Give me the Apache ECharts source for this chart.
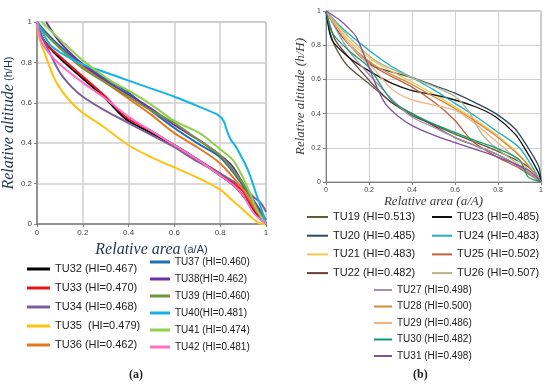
<!DOCTYPE html>
<html><head><meta charset="utf-8">
<script src="https://cdn.jsdelivr.net/npm/echarts/dist/echarts.min.js"></script>
<style>html,body{margin:0;padding:0;background:#fff}#c{width:550px;height:388px}</style>
</head><body><div id="c"></div><script>
// ---------- Panel (a) data: [relative area, relative altitude] ----------
const TU32 = [[0,1],[0.02,0.93],[0.05,0.88],[0.1,0.82],[0.2,0.72],[0.3,0.62],[0.35,0.56],[0.4,0.51],[0.5,0.45],[0.6,0.39],[0.7,0.32],[0.8,0.24],[0.86,0.19],[0.9,0.14],[0.95,0.06],[1,0]];
const TU33 = [[0,1],[0.02,0.93],[0.05,0.88],[0.1,0.83],[0.2,0.73],[0.3,0.63],[0.35,0.57],[0.4,0.52],[0.5,0.46],[0.6,0.39],[0.7,0.32],[0.8,0.25],[0.86,0.2],[0.9,0.16],[0.95,0.07],[1,0]];
const TU34 = [[0,1],[0.02,0.93],[0.05,0.86],[0.1,0.75],[0.15,0.68],[0.2,0.63],[0.3,0.56],[0.4,0.5],[0.5,0.44],[0.6,0.38],[0.7,0.31],[0.8,0.25],[0.9,0.18],[0.95,0.13],[0.98,0.1],[1,0.06]];
const TU35 = [[0,1],[0.01,0.92],[0.035,0.84],[0.08,0.71],[0.135,0.62],[0.2,0.55],[0.28,0.49],[0.4,0.39],[0.5,0.33],[0.6,0.28],[0.7,0.23],[0.8,0.17],[0.85,0.12],[0.9,0.07],[0.95,0.02],[0.98,0],[1,0]];
const TU36 = [[0,1],[0.03,0.95],[0.1,0.88],[0.2,0.78],[0.3,0.7],[0.4,0.62],[0.5,0.54],[0.6,0.45],[0.7,0.38],[0.8,0.3],[0.9,0.17],[0.95,0.08],[1,0]];
const TU37 = [[0,1],[0.03,0.96],[0.1,0.88],[0.2,0.79],[0.3,0.72],[0.4,0.65],[0.5,0.56],[0.6,0.475],[0.7,0.4],[0.8,0.33],[0.9,0.19],[0.95,0.1],[1,0]];
const TU38 = [[0.04,1],[0.1,0.9],[0.2,0.79],[0.3,0.71],[0.4,0.64],[0.5,0.57],[0.6,0.49],[0.7,0.42],[0.8,0.34],[0.85,0.29],[0.9,0.2],[0.95,0.11],[1,0.02]];
const TU39 = [[0,1],[0.03,0.95],[0.1,0.87],[0.2,0.77],[0.3,0.7],[0.4,0.63],[0.5,0.56],[0.6,0.5],[0.7,0.42],[0.8,0.34],[0.9,0.2],[0.95,0.1],[1,0]];
const TU40 = [[0,1],[0.055,0.89],[0.1,0.85],[0.2,0.79],[0.3,0.75],[0.4,0.71],[0.5,0.67],[0.6,0.63],[0.71,0.58],[0.79,0.54],[0.815,0.51],[0.83,0.46],[0.845,0.42],[0.87,0.38],[0.92,0.27],[0.96,0.14],[0.99,0.04],[1,0]];
const TU41 = [[0.02,1],[0.085,0.93],[0.2,0.81],[0.32,0.71],[0.4,0.66],[0.5,0.59],[0.6,0.51],[0.71,0.45],[0.8,0.37],[0.86,0.31],[0.92,0.18],[0.96,0.07],[1,0]];
const TU42 = [[0,1],[0.02,0.9],[0.05,0.85],[0.1,0.79],[0.2,0.7],[0.3,0.62],[0.4,0.53],[0.5,0.46],[0.6,0.39],[0.7,0.32],[0.8,0.24],[0.86,0.19],[0.9,0.14],[0.95,0.05],[1,0]];
const namesA = ['TU32 (HI=0.467)','TU33 (HI=0.470)','TU34 (HI=0.468)','TU35  (HI=0.479)','TU36 (HI=0.462)','TU37 (HI=0.460)','TU38(HI=0.462)','TU39 (HI=0.460)','TU40(HI=0.481)','TU41 (HI=0.474)','TU42 (HI=0.481)'];
const seriesA = [TU32,TU33,TU34,TU35,TU36,TU37,TU38,TU39,TU40,TU41,TU42];
const colorsA = ['#000000','#e8141c','#7e5f98','#ffc20e','#e87722','#1f6fae','#7030a0','#77933c','#12b4e6','#8fd14f','#ff6fc8'];

// ---------- Panel (b) data ----------
const TU19 = [[0,1],[0.02,0.87],[0.043,0.79],[0.1,0.68],[0.2,0.575],[0.31,0.46],[0.4,0.39],[0.5,0.335],[0.6,0.28],[0.7,0.23],[0.79,0.185],[0.94,0.09],[1,0]];
const TU20 = [[0,1],[0.075,0.85],[0.2,0.69],[0.3,0.645],[0.4,0.61],[0.5,0.565],[0.6,0.52],[0.7,0.46],[0.79,0.4],[0.88,0.31],[0.94,0.2],[0.99,0.09],[1,0]];
const TU21 = [[0,1],[0.105,0.83],[0.23,0.7],[0.4,0.585],[0.5,0.515],[0.6,0.44],[0.7,0.36],[0.79,0.28],[0.91,0.145],[1,0]];
const TU22 = [[0,1],[0.043,0.83],[0.12,0.71],[0.23,0.555],[0.3,0.47],[0.4,0.4],[0.5,0.33],[0.6,0.26],[0.7,0.21],[0.79,0.165],[0.9,0.09],[1,0]];
const TU23 = [[0,1],[0.028,0.83],[0.105,0.73],[0.2,0.65],[0.31,0.575],[0.4,0.535],[0.54,0.5],[0.695,0.44],[0.79,0.38],[0.88,0.28],[0.93,0.185],[0.99,0.05],[1,0]];
const TU24 = [[0,1],[0.075,0.9],[0.2,0.77],[0.3,0.68],[0.4,0.61],[0.5,0.54],[0.6,0.46],[0.7,0.38],[0.79,0.3],[0.9,0.2],[1,0]];
const TU25 = [[0,1],[0.105,0.81],[0.23,0.67],[0.4,0.555],[0.51,0.46],[0.6,0.36],[0.68,0.24],[0.79,0.15],[0.9,0.08],[1,0]];
const TU26 = [[0,1],[0.105,0.85],[0.23,0.71],[0.4,0.61],[0.5,0.56],[0.6,0.5],[0.66,0.42],[0.725,0.28],[0.79,0.2],[0.91,0.09],[1,0]];
const TU27 = [[0,1],[0.105,0.77],[0.214,0.61],[0.31,0.48],[0.4,0.38],[0.5,0.32],[0.6,0.26],[0.7,0.21],[0.79,0.165],[0.9,0.09],[1,0]];
const TU28 = [[0,1],[0.105,0.81],[0.23,0.68],[0.4,0.57],[0.5,0.5],[0.6,0.43],[0.7,0.35],[0.79,0.27],[0.91,0.14],[1,0]];
const TU29 = [[0,1],[0.105,0.81],[0.23,0.65],[0.31,0.54],[0.4,0.48],[0.5,0.45],[0.6,0.42],[0.695,0.34],[0.79,0.24],[0.91,0.11],[1,0]];
const TU30 = [[0,1],[0.03,0.87],[0.105,0.77],[0.2,0.67],[0.26,0.555],[0.31,0.47],[0.4,0.4],[0.5,0.34],[0.6,0.29],[0.7,0.24],[0.79,0.2],[0.9,0.13],[0.94,0.03],[1,0]];
const TU31 = [[0,1],[0.06,0.95],[0.105,0.9],[0.14,0.85],[0.175,0.75],[0.23,0.575],[0.275,0.46],[0.34,0.38],[0.4,0.33],[0.49,0.28],[0.6,0.23],[0.79,0.15],[0.94,0.07],[1,0]];
const namesB = ['TU19 (HI=0.513)','TU20 (HI=0.485)','TU21 (HI=0.483)','TU22 (HI=0.482)','TU23 (HI=0.485)','TU24 (HI=0.483)','TU25 (HI=0.502)','TU26 (HI=0.507)','TU27 (HI=0.498)','TU28 (HI=0.500)','TU29 (HI=0.486)','TU30 (HI=0.482)','TU31 (HI=0.498)'];
const seriesB = [TU19,TU20,TU21,TU22,TU23,TU24,TU25,TU26,TU27,TU28,TU29,TU30,TU31];
const colorsB = ['#5e5a3a','#2e4a62','#f0c850','#6e3b3b','#111111','#1fb0c0','#c0603a','#b4b488','#a090a8','#d48a3c','#f0b482','#0f9f6a','#8050a0'];

const chart = echarts.init(document.getElementById('c'), null, {renderer: 'canvas'});

function mkX(gi, fs, nameObj, gap, gridW, lineW) {
  return Object.assign({
    type: 'value', gridIndex: gi, min: 0, max: 1, interval: 0.2,
    axisLine: {show: true, lineStyle: {color: '#7f7f7f', width: lineW}},
    axisTick: {show: true, length: 3, lineStyle: {color: '#7f7f7f'}},
    axisLabel: {fontSize: fs, color: '#444', margin: 5, fontFamily: 'Liberation Sans'},
    splitLine: {show: true, lineStyle: {color: '#cfcfcf', width: gridW}},
    nameLocation: 'middle', nameGap: gap
  }, nameObj);
}
function mkY(gi, fs, nameObj, gap, gridW, lineW) {
  return Object.assign({
    type: 'value', gridIndex: gi, min: 0, max: 1, interval: 0.2,
    axisLine: {show: true, lineStyle: {color: '#7f7f7f', width: lineW}},
    axisTick: {show: true, length: 3, lineStyle: {color: '#7f7f7f'}},
    axisLabel: {fontSize: fs, color: '#444', margin: 5, fontFamily: 'Liberation Sans'},
    splitLine: {show: true, lineStyle: {color: '#cfcfcf', width: gridW}},
    nameLocation: 'middle', nameGap: gap, nameRotate: 90
  }, nameObj);
}

const richA = {
  a: {fontFamily: 'Liberation Serif', fontStyle: 'italic', fontSize: 16, color: '#1f3550'},
  b: {fontFamily: 'Liberation Sans', fontSize: 11, color: '#1f3550'}
};
const serifB = {fontFamily: 'Liberation Serif', fontStyle: 'italic', fontSize: 13, color: '#3a3a3a'};

const series = [];
seriesA.forEach((d, i) => series.push({
  name: namesA[i], type: 'line', xAxisIndex: 0, yAxisIndex: 0, data: d,
  smooth: 0.3, showSymbol: false, symbol: 'none',
  lineStyle: {width: 2, color: colorsA[i]}, itemStyle: {color: colorsA[i]}
}));
seriesB.forEach((d, i) => series.push({
  name: namesB[i], type: 'line', xAxisIndex: 1, yAxisIndex: 1, data: d,
  smooth: 0.25, showSymbol: false, symbol: 'none',
  lineStyle: {width: 1.3, color: colorsB[i]}, itemStyle: {color: colorsB[i]}
}));

function lg(data, left, top, fs, lh, gap, iw, ih) {
  return {
    data: data, left: left, top: top, orient: 'vertical', icon: 'rect',
    itemWidth: iw, itemHeight: ih, itemGap: gap, padding: 0, selectedMode: false,
    textStyle: {fontSize: fs, lineHeight: lh, color: '#222', fontFamily: 'Liberation Sans'}
  };
}

chart.setOption({
  animation: false,
  backgroundColor: '#ffffff',
  grid: [
    {left: 37, top: 22, width: 229, height: 202, show: true, borderColor: '#8c8c8c', borderWidth: 1, containLabel: false},
    {left: 326, top: 11, width: 215, height: 171, show: true, borderColor: '#999', borderWidth: 1, containLabel: false}
  ],
  xAxis: [
    mkX(0, 8, {name: '{a|Relative area} {b|(a/A)}', nameTextStyle: {rich: richA}}, 8, 1.5, 1.5),
    mkX(1, 7, {name: 'Relative area (a/A)', nameTextStyle: serifB}, 13, 1, 1)
  ],
  yAxis: [
    mkY(0, 8, {name: '{a|Relative altitude} {b|(h/H)}', nameTextStyle: {rich: richA}}, 12, 1.5, 1.5),
    mkY(1, 7, {name: 'Relative altitude (h/H)', nameTextStyle: serifB}, 10, 1, 1)
  ],
  legend: [
    lg(namesA.slice(0, 5), 27, 262, 11, 14, 5, 23, 3),
    lg(namesA.slice(5), 150, 256, 10, 12, 5, 20, 3),
    lg(['TU19 (HI=0.513)','TU20 (HI=0.485)','TU21 (HI=0.483)','TU22 (HI=0.482)'], 307, 210, 11, 14, 4.7, 21, 2),
    lg(['TU23 (HI=0.485)','TU24 (HI=0.483)','TU25 (HI=0.502)','TU26 (HI=0.507)'], 432, 210, 11, 14, 4.7, 20, 2),
    lg(namesB.slice(8), 374, 284, 10, 12, 4.5, 18, 2)
  ],
  graphic: [
    {type: 'text', left: 129, top: 369, style: {text: '(a)', font: 'bold 12px "Liberation Serif"', fill: '#222'}},
    {type: 'text', left: 413, top: 369, style: {text: '(b)', font: 'bold 12px "Liberation Serif"', fill: '#222'}}
  ],
  series: series
});
</script></body></html>
